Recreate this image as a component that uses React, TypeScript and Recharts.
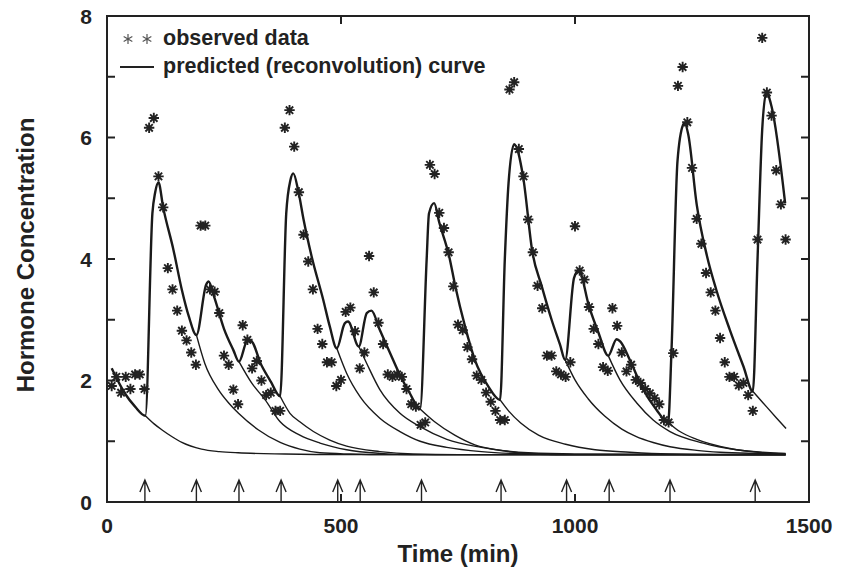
import React from 'react';
import { ComposedChart, Line, Scatter, XAxis, YAxis, ReferenceArea } from 'recharts';

// ---------- data ----------
const observed: [number, number][] = [
  [10, 1.91], [20, 2.06], [30, 1.80], [40, 2.06], [50, 1.86], [60, 2.10], [70, 2.10], [80, 1.86],
  [90, 6.16], [100, 6.32], [110, 5.36], [120, 4.85], [130, 3.85], [140, 3.50], [150, 3.15], [160, 2.82],
  [170, 2.66], [180, 2.46], [190, 2.26], [200, 4.55], [210, 4.55], [220, 3.50], [230, 3.46], [240, 3.11],
  [250, 2.41], [260, 2.26], [270, 1.85], [280, 1.61], [290, 2.91], [300, 2.67], [310, 2.20], [320, 2.32],
  [330, 2.00], [340, 1.76], [350, 1.80], [360, 1.50], [370, 1.50], [380, 6.16], [390, 6.45], [400, 5.85],
  [410, 5.10], [420, 4.40], [430, 3.96], [440, 3.50], [450, 2.85], [460, 2.60], [470, 2.30], [480, 2.30],
  [490, 1.91], [500, 2.01], [510, 3.13], [520, 3.20], [530, 2.81], [540, 2.20], [550, 2.46], [560, 4.05],
  [570, 3.45], [580, 2.95], [590, 2.60], [600, 2.10], [610, 2.06], [620, 2.10], [630, 2.06], [640, 1.86],
  [650, 1.61], [660, 1.57], [670, 1.27], [680, 1.31], [690, 5.55], [700, 5.40], [710, 4.76], [720, 4.51],
  [730, 4.11], [740, 3.55], [750, 2.92], [760, 2.83], [770, 2.55], [780, 2.35], [790, 2.08], [800, 2.01],
  [810, 1.80], [820, 1.65], [830, 1.50], [840, 1.35], [850, 1.35], [860, 6.79], [870, 6.91], [880, 5.81],
  [890, 5.36], [900, 4.65], [910, 4.11], [920, 3.56], [930, 3.19], [940, 2.41], [950, 2.41], [960, 2.15],
  [970, 2.10], [980, 2.06], [990, 2.30], [1000, 4.54], [1010, 3.81], [1020, 3.66], [1030, 3.21], [1040, 2.85],
  [1050, 2.60], [1060, 2.22], [1070, 2.16], [1080, 3.19], [1090, 2.90], [1100, 2.46], [1110, 2.15], [1120, 2.26],
  [1130, 2.01], [1140, 1.96], [1150, 1.86], [1160, 1.79], [1170, 1.71], [1180, 1.61], [1190, 1.35], [1200, 1.31],
  [1210, 2.45], [1220, 6.85], [1230, 7.16], [1240, 6.25], [1250, 5.50], [1260, 4.66], [1270, 4.25], [1280, 3.77],
  [1290, 3.45], [1300, 3.15], [1310, 2.70], [1320, 2.30], [1330, 2.06], [1340, 2.06], [1350, 1.92], [1360, 1.96],
  [1370, 1.76], [1380, 1.50], [1390, 4.32], [1400, 7.64], [1410, 6.74], [1420, 6.36], [1430, 5.46], [1440, 4.90],
  [1450, 4.32],
];

const predicted: [number, number][] = [
  [10, 2.20], [38, 1.79], [60, 1.57], [82, 1.42], [97, 4.75], [103, 5.10], [110, 5.26], [120, 4.85],
  [142, 4.15], [160, 3.49], [175, 3.05], [191, 2.75], [212, 3.58], [217, 3.63], [230, 3.35], [250, 2.85],
  [270, 2.50], [282, 2.31], [300, 2.65], [307, 2.65], [330, 2.25], [350, 1.98], [370, 1.74], [383, 4.75],
  [392, 5.30], [398, 5.41], [409, 5.11], [420, 4.65], [437, 4.05], [462, 3.33], [476, 2.89], [491, 2.53],
  [508, 2.94], [515, 2.97], [538, 2.56], [555, 3.11], [565, 3.15], [583, 2.83], [605, 2.45], [626, 2.09],
  [647, 1.79], [669, 1.53], [683, 3.99], [688, 4.75], [699, 4.92], [710, 4.60], [731, 4.05], [744, 3.56],
  [765, 2.89], [786, 2.34], [815, 1.90], [840, 1.68], [850, 3.99], [858, 5.25], [870, 5.89], [889, 5.36],
  [909, 4.11], [929, 3.55], [950, 3.00], [968, 2.59], [979, 2.34], [998, 3.69], [1008, 3.81], [1030, 3.22],
  [1050, 2.79], [1071, 2.41], [1089, 2.68], [1097, 2.64], [1117, 2.34], [1146, 1.85], [1174, 1.52], [1199, 1.31],
  [1206, 2.45], [1219, 5.61], [1231, 6.21], [1234, 6.24], [1242, 6.05], [1260, 4.90], [1282, 4.05], [1302, 3.49],
  [1331, 2.83], [1360, 2.23], [1380, 1.82], [1390, 3.99], [1400, 6.13], [1409, 6.74], [1420, 6.51], [1449, 4.92],
];

// component decay curves, one from the onset of each pulse
const decay1: [number, number][] = [[82, 1.42], [100, 1.29], [117, 1.19], [140, 1.07], [160, 0.98], [202, 0.87], [240, 0.83], [280, 0.81], [380, 0.79], [500, 0.78], [1450, 0.78]];
const decay2: [number, number][] = [[191, 2.75], [209, 2.28], [238, 1.85], [260, 1.63], [281, 1.46], [323, 1.19], [370, 0.98], [412, 0.87], [455, 0.81], [520, 0.79], [600, 0.78], [1450, 0.78]];
const decay3: [number, number][] = [[282, 2.31], [309, 1.96], [338, 1.68], [370, 1.32], [412, 1.10], [455, 0.97], [512, 0.86], [583, 0.80], [650, 0.78], [1450, 0.78]];
const decay4: [number, number][] = [[370, 1.74], [391, 1.46], [412, 1.32], [441, 1.16], [476, 1.02], [512, 0.92], [583, 0.83], [654, 0.79], [750, 0.78], [1450, 0.78]];
const decay5: [number, number][] = [[491, 2.53], [512, 2.12], [541, 1.73], [583, 1.38], [626, 1.16], [669, 1.00], [726, 0.90], [800, 0.83], [900, 0.79], [1000, 0.78], [1450, 0.78]];
const decay6: [number, number][] = [[538, 2.56], [555, 2.28], [583, 1.85], [626, 1.46], [669, 1.24], [726, 1.03], [800, 0.90], [900, 0.81], [1000, 0.79], [1450, 0.78]];
const decay7: [number, number][] = [[669, 1.53], [700, 1.32], [743, 1.10], [786, 0.94], [850, 0.84], [922, 0.79], [1000, 0.78], [1450, 0.78]];
const decay8: [number, number][] = [[840, 1.68], [858, 1.50], [884, 1.30], [922, 1.10], [980, 0.95], [1043, 0.86], [1117, 0.82], [1200, 0.79], [1300, 0.78], [1450, 0.78]];
const decay9: [number, number][] = [[979, 2.34], [1000, 2.01], [1028, 1.70], [1064, 1.41], [1100, 1.20], [1130, 1.08], [1167, 0.98], [1203, 0.91], [1260, 0.85], [1310, 0.82], [1380, 0.80], [1450, 0.79]];
const decay10: [number, number][] = [[1071, 2.41], [1096, 2.01], [1132, 1.63], [1167, 1.35], [1203, 1.16], [1274, 0.97], [1345, 0.86], [1417, 0.81], [1450, 0.80]];
const decay11: [number, number][] = [[1199, 1.31], [1224, 1.16], [1260, 1.03], [1331, 0.88], [1402, 0.81], [1450, 0.79]];
const decay12: [number, number][] = [[1380, 1.82], [1402, 1.63], [1431, 1.38], [1451, 1.21]];

const decays = [decay1, decay2, decay3, decay4, decay5, decay6, decay7, decay8, decay9, decay10, decay11, decay12];

// pulse onset times (arrows)
const pulseTimes = [81, 191, 282, 372, 493, 541, 672, 842, 982, 1073, 1203, 1385];

const xMin = 0;
const xMax = 1500;
const yMin = 0;
const yMax = 8;
const xTicks = [0, 500, 1000, 1500];
const xInnerTicks = [500, 1000];
const yTicks = [0, 1, 2, 3, 4, 5, 6, 7, 8];
const yInnerTicks = [1, 2, 3, 4, 5, 6, 7];
const yTickLabels = [0, 2, 4, 6, 8];

const legendObserved = 'observed data';
const legendPredicted = 'predicted (reconvolution) curve';
const xTitle = 'Time (min)';
const yTitle = 'Hormone Concentration';

// ---------- helpers ----------
const toPts = (arr: [number, number][]) => arr.map(([t, v]) => ({ t, v }));
const FONT = "'Liberation Sans', Arial, Helvetica, sans-serif";
const INK = '#222';
const TICK = 8;

const Star = (props: any) => {
  const { cx, cy } = props;
  if (cx == null || cy == null) return null;
  const r = 5.2;
  const d = r * 0.7071;
  return (
    <path
      d={`M${cx},${cy - r}L${cx},${cy + r}M${cx - r},${cy}L${cx + r},${cy}M${cx - d},${cy - d}L${cx + d},${cy + d}M${cx - d},${cy + d}L${cx + d},${cy - d}`}
      stroke={INK}
      strokeWidth={1.9}
      fill="none"
    />
  );
};

const Arrow = (props: any) => {
  const { cx, cy } = props;
  if (cx == null || cy == null) return null;
  const tip = cy - 22;
  return (
    <path
      d={`M${cx},${cy}L${cx},${tip}M${cx - 5},${tip + 12}L${cx},${tip}L${cx + 5},${tip + 12}`}
      stroke={INK}
      strokeWidth={1.4}
      fill="none"
    />
  );
};

// inward tick marks drawn as scatter shapes (dx, dy: direction into the plot)
const makeTickShape = (dx: number, dy: number) => (props: any) => {
  const { cx, cy } = props;
  if (cx == null || cy == null) return null;
  return <path d={`M${cx},${cy}L${cx + dx * TICK},${cy + dy * TICK}`} stroke={INK} strokeWidth={2} fill="none" />;
};
const LeftTickMark = makeTickShape(1, 0);
const RightTickMark = makeTickShape(-1, 0);
const TopTickMark = makeTickShape(0, 1);
const BottomTickMark = makeTickShape(0, -1);

const LeftTick = (props: any) => {
  const { x, y, payload } = props;
  if (!yTickLabels.includes(payload.value)) return <g />;
  return (
    <text x={x - 15} y={y + 7.5} textAnchor="end" fontFamily={FONT} fontWeight="bold" fontSize={21} fill={INK}>
      {payload.value}
    </text>
  );
};

const BottomTick = (props: any) => {
  const { x, y, payload } = props;
  return (
    <text x={x} y={y + 31} textAnchor="middle" fontFamily={FONT} fontWeight="bold" fontSize={21} fill={INK}>
      {payload.value}
    </text>
  );
};

const LegendStar = ({ cx, cy }: { cx: number; cy: number }) => {
  const r = 5;
  const dx = r * 0.866;
  const dy = r * 0.5;
  return (
    <path
      d={`M${cx},${cy - r}L${cx},${cy + r}M${cx - dx},${cy - dy}L${cx + dx},${cy + dy}M${cx - dx},${cy + dy}L${cx + dx},${cy - dy}`}
      stroke="#555"
      strokeWidth={1.2}
      fill="none"
    />
  );
};

export default function App() {
  const leftMarks = yInnerTicks.map((v) => ({ t: xMin, v }));
  const rightMarks = yInnerTicks.map((v) => ({ t: xMax, v }));
  const topMarks = xInnerTicks.map((t) => ({ t, v: yMax }));
  const bottomMarks = xInnerTicks.map((t) => ({ t, v: yMin }));
  return (
    <div style={{ position: 'absolute', left: 0, top: 0, width: 851, height: 567, background: '#fff' }}>
      <ComposedChart width={851} height={567} margin={{ top: 16, right: 42, bottom: 0, left: 0 }}>
        <XAxis
          xAxisId="b"
          type="number"
          dataKey="t"
          domain={[xMin, xMax]}
          ticks={xTicks}
          interval={0}
          height={65}
          tickSize={0}
          tickMargin={0}
          tickLine={false}
          axisLine={false}
          tick={<BottomTick />}
          allowDataOverflow
          label={{
            content: (p: any) => {
              const vb = p.viewBox;
              return (
                <text x={vb.x + vb.width / 2} y={vb.y + 60} textAnchor="middle" fontFamily={FONT} fontWeight="bold" fontSize={24} fill={INK}>
                  {xTitle}
                </text>
              );
            },
          }}
        />
        <YAxis
          yAxisId="l"
          type="number"
          domain={[yMin, yMax]}
          ticks={yTicks}
          interval={0}
          width={107}
          tickSize={0}
          tickMargin={0}
          tickLine={false}
          axisLine={false}
          tick={<LeftTick />}
          allowDataOverflow
          label={{
            content: (p: any) => {
              const vb = p.viewBox;
              const cx = vb.x + 25;
              const cy = vb.y + vb.height / 2 - 4;
              return (
                <text x={cx} y={cy} transform={`rotate(-90 ${cx} ${cy})`} textAnchor="middle" dominantBaseline="central" fontFamily={FONT} fontWeight="bold" fontSize={24} fill={INK}>
                  {yTitle}
                </text>
              );
            },
          }}
        />

        <ReferenceArea
          xAxisId="b"
          yAxisId="l"
          x1={xMin}
          x2={xMax}
          y1={yMin}
          y2={yMax}
          fill="none"
          fillOpacity={0}
          stroke={INK}
          strokeWidth={2}
          strokeOpacity={1}
          ifOverflow="visible"
        />

        {decays.map((d, i) => (
          <Line
            key={`d${i}`}
            xAxisId="b"
            yAxisId="l"
            data={toPts(d)}
            dataKey="v"
            type="monotone"
            stroke="#1a1a1a"
            strokeWidth={1.4}
            dot={false}
            activeDot={false}
            isAnimationActive={false}
          />
        ))}
        <Line
          xAxisId="b"
          yAxisId="l"
          data={toPts(predicted)}
          dataKey="v"
          type="monotone"
          stroke="#1a1a1a"
          strokeWidth={2.4}
          dot={false}
          activeDot={false}
          isAnimationActive={false}
        />
        <Scatter xAxisId="b" yAxisId="l" data={leftMarks} dataKey="v" shape={LeftTickMark} isAnimationActive={false} />
        <Scatter xAxisId="b" yAxisId="l" data={rightMarks} dataKey="v" shape={RightTickMark} isAnimationActive={false} />
        <Scatter xAxisId="b" yAxisId="l" data={topMarks} dataKey="v" shape={TopTickMark} isAnimationActive={false} />
        <Scatter xAxisId="b" yAxisId="l" data={bottomMarks} dataKey="v" shape={BottomTickMark} isAnimationActive={false} />
        <Scatter
          xAxisId="b"
          yAxisId="l"
          data={pulseTimes.map((t) => ({ t, v: 0 }))}
          dataKey="v"
          shape={<Arrow />}
          isAnimationActive={false}
        />
        <Scatter
          xAxisId="b"
          yAxisId="l"
          data={toPts(observed)}
          dataKey="v"
          shape={<Star />}
          isAnimationActive={false}
        />
      </ComposedChart>
      <svg width={851} height={567} style={{ position: 'absolute', left: 0, top: 0, pointerEvents: 'none' }}>
        <LegendStar cx={128} cy={39} />
        <LegendStar cx={147} cy={39} />
        <text x={163} y={45} fontFamily={FONT} fontWeight="bold" fontSize={21.5} fill={INK}>
          {legendObserved}
        </text>
        <line x1={120} y1={67} x2={154} y2={67} stroke={INK} strokeWidth={2} />
        <text x={163} y={73} fontFamily={FONT} fontWeight="bold" fontSize={21.5} fill={INK}>
          {legendPredicted}
        </text>
      </svg>
    </div>
  );
}
